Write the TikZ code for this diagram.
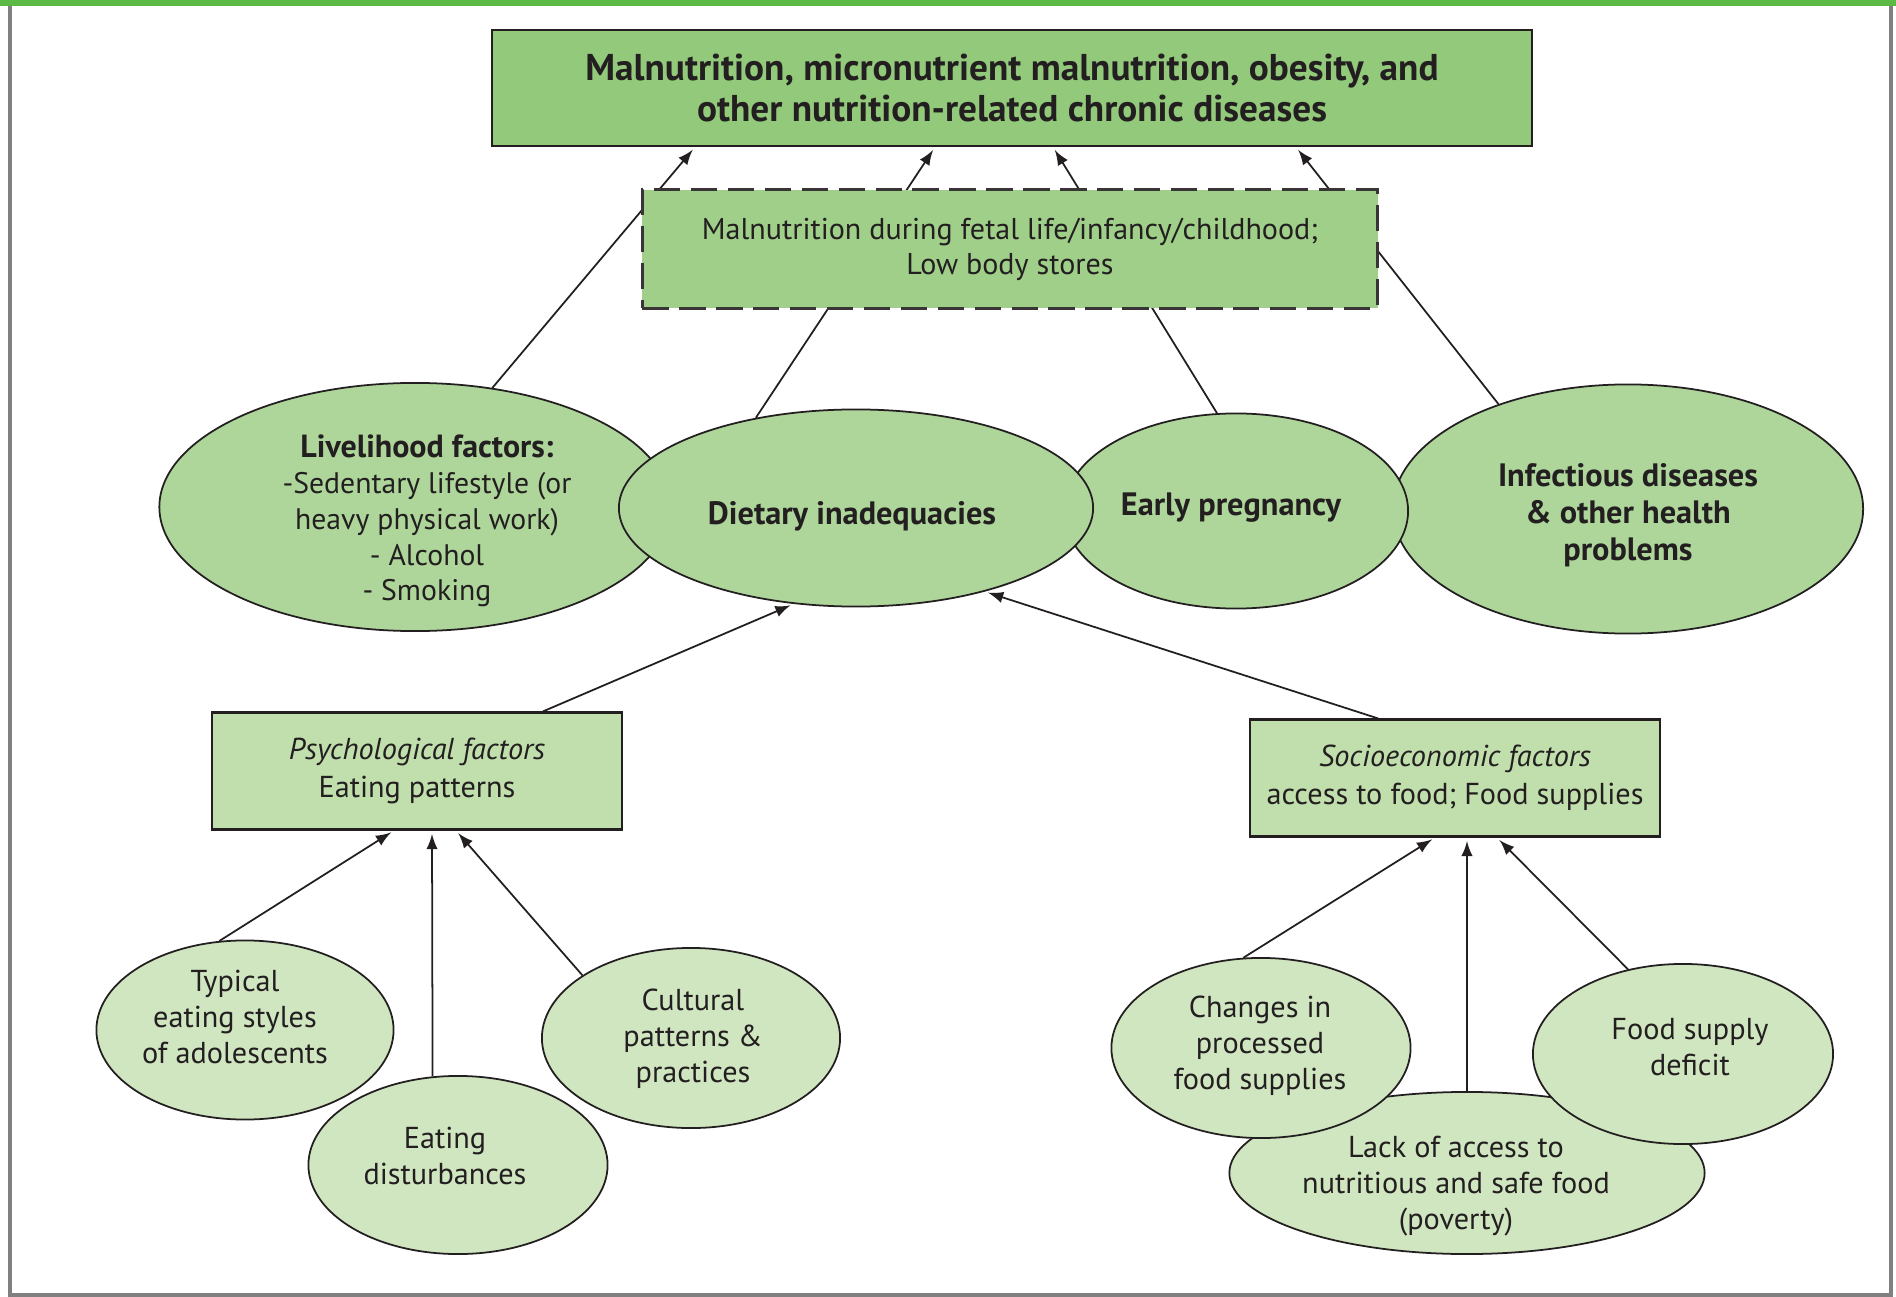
\documentclass[tikz,border=0pt]{standalone}
\usepackage{fontspec}
\setmainfont{PT Sans}
\usetikzlibrary{shapes.geometric,calc}
\definecolor{bargreen}{HTML}{5DB946}
\definecolor{topgreen}{HTML}{92C97A}
\definecolor{fetalgreen}{HTML}{A0CF89}
\definecolor{midgreen}{HTML}{AED69B}
\definecolor{boxgreen}{HTML}{C0DFAC}
\definecolor{lightgreen}{HTML}{D0E6C0}
\definecolor{inkgray}{HTML}{231F20}
\begin{document}
\begin{tikzpicture}[x=0.01cm,y=-0.01cm,
  every node/.style={text=inkgray},
  oval/.style={ellipse, draw=inkgray, line width=0.5pt, inner sep=0pt},
  ovaltext/.style={align=center, inner sep=0pt, font=\fontsize{8.6}{10.2}\selectfont},
  boldtext/.style={align=center, inner sep=0pt, font=\bfseries\fontsize{9.2}{10.5}\selectfont},
  factorbox/.style={draw=inkgray, line width=0.6pt, fill=boxgreen, align=center,
    minimum width=4.1cm, minimum height=1.17cm, font=\fontsize{8.6}{10.8}\selectfont},
  arrowline/.style={-latex, line width=0.5pt, draw=inkgray, shorten >=1pt}]
  \useasboundingbox (0,0) rectangle (1896,1297);
  % frame
  \fill[bargreen] (0,0) rectangle (1896,6);
  \draw[gray, line width=1.2pt] (10,6) -- (10,1295) -- (1891,1295) -- (1891,6);

  \node[draw=inkgray, line width=0.6pt, fill=topgreen, minimum width=10.4cm, minimum height=1.16cm,
    align=center, font=\bfseries\fontsize{10.6}{11.7}\selectfont] (top) at (1012,88)
    {Malnutrition, micronutrient malnutrition, obesity, and\\other nutrition-related chronic diseases};

  % middle row
  \node[oval, fill=midgreen, minimum width=5.11cm, minimum height=2.48cm] (liv) at (415,507) {};
  \node[oval, fill=midgreen, minimum width=4.70cm, minimum height=2.49cm] (infect) at (1628,509) {};
  \node[oval, fill=midgreen, minimum width=3.44cm, minimum height=1.95cm] (preg) at (1236,511) {};
  \node[oval, fill=midgreen, minimum width=4.74cm, minimum height=1.97cm] (diet) at (856,508) {};
  \node[ovaltext, font=\fontsize{8.45}{10.2}\selectfont] (livtxt) at (427,521)
    {{\bfseries\fontsize{9.1}{10.2}\selectfont Livelihood factors:}\\-Sedentary lifestyle (or\\heavy physical work)\\- Alcohol\\- Smoking};
  \node[boldtext] (infecttxt) at (1628,515) {Infectious diseases\\\& other health\\problems};
  \node[boldtext] (pregtxt) at (1231,508) {Early pregnancy};
  \node[boldtext] (diettxt) at (852,516) {Dietary inadequacies};

  \draw[arrowline] (liv.57) -- ($(top.south)+(-317,0)$);
  \draw[arrowline] (diet.138) -- ($(top.south)+(-77,0)$);
  \draw[arrowline] (preg.101.7) -- ($(top.south)+(41,0)$);
  \draw[arrowline] (infect.141) -- ($(top.south)+(284,0)$);

  \node[draw=inkgray!90, line width=0.85pt, dash pattern=on 7.5pt off 3pt, fill=fetalgreen,
    minimum width=7.35cm, minimum height=1.18cm, align=center, font=\fontsize{8.55}{10}\selectfont] (fetal) at (1010,249)
    {Malnutrition during fetal life/infancy/childhood;\\Low body stores};

  % factor boxes
  \node[factorbox] (psy) at (417,771) {\textit{Psychological factors}\\Eating patterns};
  \node[factorbox] (socio) at (1455,778) {\textit{Socioeconomic factors}\\access to food; Food supplies};
  \draw[arrowline] ($(psy.north)+(126,0)$) -- (diet.237);
  \draw[arrowline] ($(socio.north)+(-77,0)$) -- (diet.327.7);

  % psychological causes
  \node[oval, fill=lightgreen, minimum width=2.97cm, minimum height=1.79cm] (typical) at (245,1030) {};
  \node[oval, fill=lightgreen, minimum width=2.98cm, minimum height=1.80cm] (cultural) at (691,1038) {};
  \node[oval, fill=lightgreen, minimum width=2.99cm, minimum height=1.78cm] (disturb) at (458,1165) {};
  \node[ovaltext] (typicaltxt) at (235,1017) {Typical\\eating styles\\of adolescents};
  \node[ovaltext] (culturaltxt) at (693,1039) {Cultural\\patterns \&\\practices};
  \node[ovaltext] (disturbtxt) at (445,1156) {Eating\\disturbances};
  \draw[arrowline] (typical.106.3) -- ($(psy.south)+(-23,0)$);
  \draw[arrowline] (disturb.106.5) -- ($(psy.south)+(15,0)$);
  \draw[arrowline] (cultural.150.1) -- ($(psy.south)+(39,0)$);

  % socioeconomic causes
  \node[oval, fill=lightgreen, minimum width=4.75cm, minimum height=1.62cm] (lack) at (1467,1173) {};
  \node[oval, fill=lightgreen, minimum width=2.99cm, minimum height=1.80cm] (changes) at (1261,1048) {};
  \node[oval, fill=lightgreen, minimum width=3.00cm, minimum height=1.80cm] (deficit) at (1683,1054) {};
  \node[ovaltext] (lacktxt) at (1456,1186) {Lack of access to\\nutritious and safe food\\(poverty)};
  \node[ovaltext] (changestxt) at (1260,1046) {Changes in\\processed\\food supplies};
  \node[ovaltext] (deficittxt) at (1690,1047) {Food supply\\deficit};
  \draw[arrowline] (changes.101.4) -- ($(socio.south)+(-20,0)$);
  \draw[arrowline] (lack.north) -- ($(socio.south)+(12,0)$);
  \draw[arrowline] (deficit.123.2) -- ($(socio.south)+(42,0)$);
\end{tikzpicture}
\end{document}
